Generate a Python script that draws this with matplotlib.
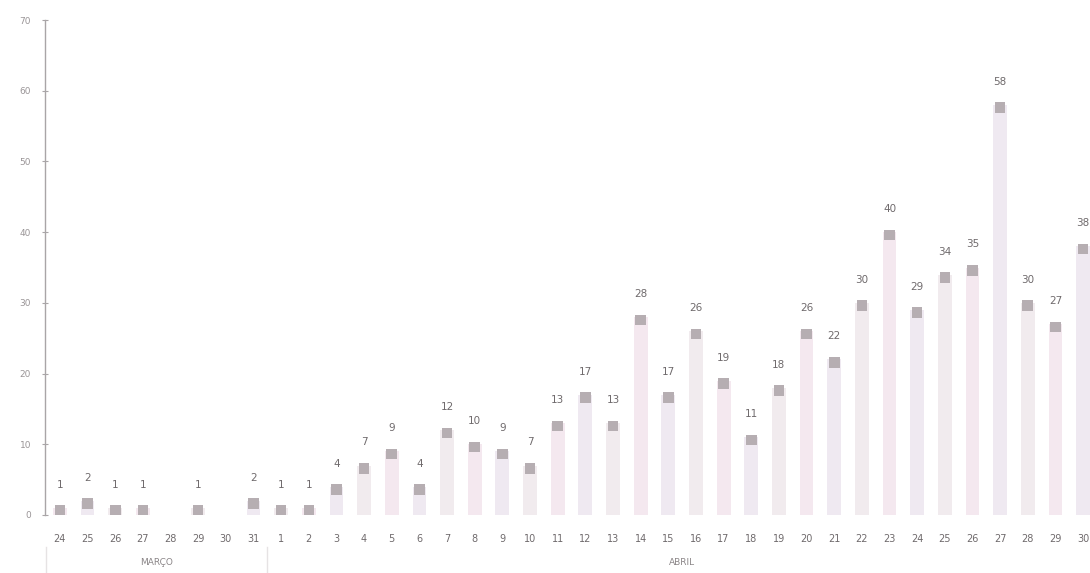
import matplotlib
matplotlib.use("Agg")
import matplotlib.pyplot as plt

# dias (24 de março a 30 de abril)
march_days = [24, 25, 26, 27, 28, 29, 30, 31]
april_days = list(range(1, 31))
day_labels = [str(d) for d in march_days + april_days]

# casos por dia (0 = sem registo)
cases = [1, 2, 1, 1, 0, 1, 0, 2,
         1, 1, 4, 7, 9, 4, 12, 10, 9, 7, 13, 17, 13, 28, 17, 26, 19, 11,
         18, 26, 22, 30, 40, 29, 34, 35, 58, 30, 27, 38]

month_names = ["MARÇO", "ABRIL"]
month_sizes = [len(march_days), len(april_days)]

y_ticks = [0, 10, 20, 30, 40, 50, 60, 70]

BAR_COLORS = ["#f4e8ef", "#efe9f1", "#f1ebee"]
MARK_COLOR = "#b6aeb2"
TEXT_COLOR = "#6f6a6c"
AXIS_COLOR = "#a9a5a7"

fig = plt.figure(figsize=(10.9, 5.73), dpi=100)
ax = fig.add_axes([45 / 1090, 58 / 573, 1045 / 1090, 495 / 573])

x = list(range(len(cases)))
shown = [i for i, v in enumerate(cases) if v > 0]

ax.bar([x[i] for i in shown], [cases[i] for i in shown], width=0.5,
       color=[BAR_COLORS[i % len(BAR_COLORS)] for i in shown], zorder=1)
ax.scatter([x[i] for i in shown], [cases[i] - 0.4 for i in shown], marker="s",
           s=58, color=MARK_COLOR, edgecolors="none", zorder=2)

for i in shown:
    ax.annotate(str(cases[i]), (x[i], cases[i]), xytext=(0, 13),
                textcoords="offset points", ha="center", va="bottom",
                fontsize=7.5, color=TEXT_COLOR)

ax.set_xlim(-0.54, 37.25)
ax.set_ylim(0, 70)
ax.set_yticks(y_ticks)
ax.set_yticklabels([str(t) for t in y_ticks])
ax.set_xticks(x)
ax.set_xticklabels(day_labels)

ax.tick_params(axis="y", direction="inout", length=4, width=0.8,
               colors=AXIS_COLOR, labelsize=6.5, labelcolor="#9a9597", pad=8)
ax.tick_params(axis="x", length=0, labelsize=7, labelcolor=TEXT_COLOR, pad=14)

for side in ["top", "right", "bottom"]:
    ax.spines[side].set_visible(False)
ax.spines["left"].set_color(AXIS_COLOR)
ax.spines["left"].set_linewidth(1.0)

# nomes dos meses e separadores
start = 0
for name, size in zip(month_names, month_sizes):
    center = start + (size - 1) / 2
    ax.text(center, -0.096, name, transform=ax.get_xaxis_transform(),
            ha="center", va="center", fontsize=6.5, color="#8a8587")
    ax.plot([start - 0.5, start - 0.5], [-0.065, -0.12],
            transform=ax.get_xaxis_transform(), clip_on=False,
            color="#e6e3e4", linewidth=1.0)
    start += size

fig.savefig("out.png", dpi=100)
